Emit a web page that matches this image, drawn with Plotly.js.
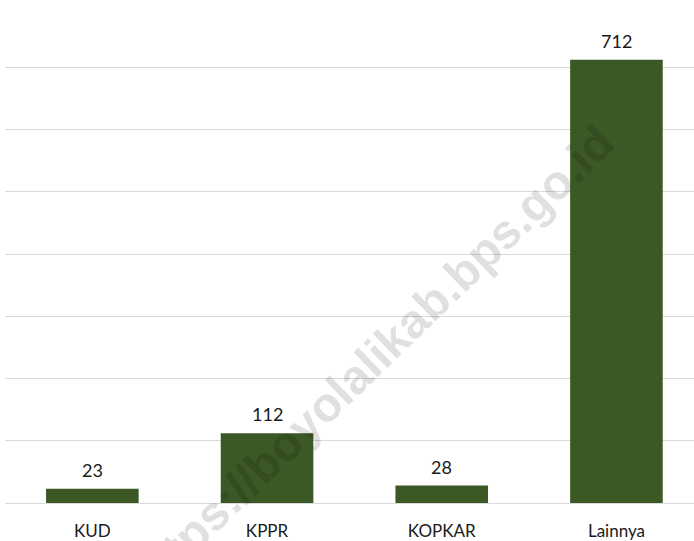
<!DOCTYPE html>
<html>
<head>
<meta charset="utf-8">
<script src="https://cdn.plot.ly/plotly-3.0.1.min.js"></script>
<style>html,body{margin:0;padding:0;background:#fff}#chart{width:694px;height:541px}</style>
</head>
<body>
<div id="chart"></div>
<script>
const categories = ["KUD", "KPPR", "KOPKAR", "Lainnya"];
const values = [23, 112, 28, 712];
const watermark = "https://boyolalikab.bps.go.id";

const labelFont = {family: "Lato, sans-serif", size: 18, color: "#1a1a1a"};

const trace = {
  type: "bar",
  x: categories,
  y: values,
  marker: {color: "#3B5825"},
  hoverinfo: "x+y"
};

const valueLabels = categories.map((c, i) => ({
  x: c, y: values[i], xref: "x", yref: "y",
  text: String(values[i]),
  showarrow: false,
  yanchor: "bottom", xanchor: "center",
  yshift: 6,
  font: labelFont
}));

const layout = {
  width: 694, height: 541,
  margin: {l: 5, r: 0, t: 5, b: 38, pad: 0},
  paper_bgcolor: "#ffffff",
  plot_bgcolor: "#ffffff",
  bargap: 0.47,
  showlegend: false,
  xaxis: {
    type: "category",
    range: [-0.5, 3.444],
    showgrid: false,
    zeroline: false,
    showline: false,
    ticks: "",
    ticklabelstandoff: 16,
    automargin: false,
    tickfont: {family: "Lato, sans-serif", size: 17, color: "#1a1a1a"}
  },
  yaxis: {
    range: [0, 800],
    dtick: 100,
    showticklabels: false,
    showgrid: true,
    gridcolor: "#d9d9d9",
    gridwidth: 1,
    zeroline: true,
    zerolinecolor: "#d9d9d9",
    zerolinewidth: 1,
    showline: false,
    ticks: "",
    automargin: false
  },
  annotations: valueLabels.concat([{
    text: watermark,
    xref: "paper", yref: "paper",
    x: (371 - 5) / 689, y: (503 - 360) / 498,
    xanchor: "center", yanchor: "middle",
    textangle: -44,
    showarrow: false,
    font: {family: "Liberation Sans", size: 48, weight: 700, color: "rgba(0,0,0,0.12)"}
  }])
};

Plotly.newPlot("chart", [trace], layout, {displayModeBar: false, staticPlot: true});
</script>
</body>
</html>
